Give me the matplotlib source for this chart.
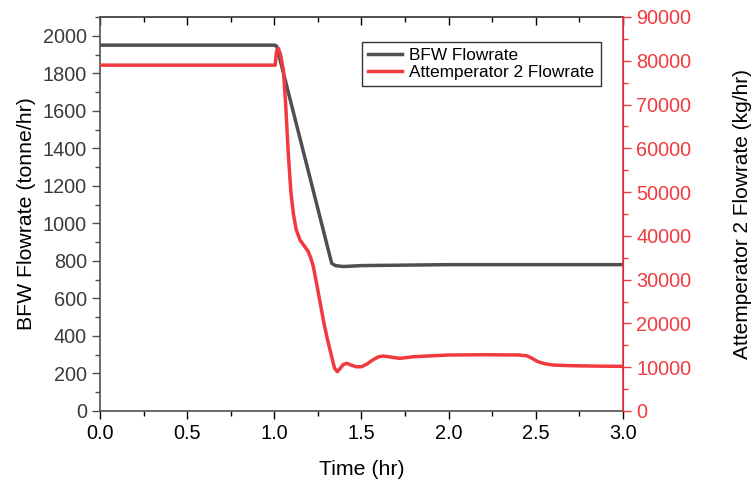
import matplotlib
matplotlib.use("Agg")
import matplotlib.pyplot as plt
from matplotlib.ticker import MultipleLocator

plt.rcParams['font.family'] = ['Liberation Sans', 'DejaVu Sans']

# BFW flowrate (tonne/hr)
bfw_t = [0.0, 1.0, 1.013, 1.329, 1.35, 1.396, 1.5, 2.0, 2.5, 3.0]
bfw_v = [1950, 1950, 1945, 787, 775, 770, 775, 780, 780, 780]

# Attemperator 2 flowrate (kg/hr)
att_t = [0.0, 1.005, 1.012, 1.023, 1.035, 1.052, 1.065, 1.08, 1.095, 1.109, 1.125,
         1.147, 1.17, 1.195, 1.21, 1.224, 1.25, 1.281, 1.305, 1.329, 1.345, 1.361,
         1.375, 1.395, 1.415, 1.44, 1.47, 1.501, 1.53, 1.57, 1.6, 1.625, 1.67,
         1.72, 1.8, 2.0, 2.2, 2.4, 2.45, 2.48, 2.51, 2.55, 2.6, 2.7, 2.85, 3.0]
att_v = [79000, 79000, 82000, 82850, 81500, 77900, 70000, 58860, 50000, 45160, 41500,
         39060, 37800, 36390, 34800, 32960, 27500, 20790, 16300, 12400, 9800, 8980,
         9600, 10600, 10900, 10500, 10100, 10120, 10700, 11800, 12400, 12560, 12300,
         12030, 12400, 12790, 12850, 12800, 12600, 12000, 11300, 10800, 10500, 10350, 10250, 10200]

BLACK = '#4f4f4f'
RED = '#f03a3f'

fig = plt.figure(figsize=(7.56, 4.83), dpi=100)
ax = fig.add_axes([100/756, 1-411/483, 523/756, 394/483])
ax2 = ax.twinx()

l1, = ax.plot(bfw_t, bfw_v, color=BLACK, lw=2.5, label='BFW Flowrate', solid_joinstyle='round')
l2, = ax2.plot(att_t, att_v, color=RED, lw=2.5, label='Attemperator 2 Flowrate', solid_joinstyle='round')

ax.set_xlim(0, 3.0)
ax.set_ylim(0, 2100)
ax2.set_ylim(0, 90000)

ax.xaxis.set_major_locator(MultipleLocator(0.5))
ax.xaxis.set_minor_locator(MultipleLocator(0.25))
ax.yaxis.set_major_locator(MultipleLocator(200))
ax.yaxis.set_minor_locator(MultipleLocator(100))
ax2.yaxis.set_major_locator(MultipleLocator(10000))
ax2.yaxis.set_minor_locator(MultipleLocator(5000))

FS = 14.3
ax.tick_params(axis='x', which='both', direction='out', labelsize=FS, colors='black')
ax.tick_params(axis='x', which='major', length=6, width=1)
ax.tick_params(axis='x', which='minor', length=3.5, width=1)
ax.tick_params(axis='y', which='major', direction='out', length=6, width=1, labelsize=FS,
               colors=BLACK, labelcolor='#3a3a3a')
ax.tick_params(axis='y', which='minor', direction='out', length=3.5, width=1, colors=BLACK)
ax2.tick_params(axis='y', which='major', direction='out', length=6, width=1, labelsize=FS,
                colors=RED, labelcolor=RED)
ax2.tick_params(axis='y', which='minor', direction='out', length=3.5, width=1, colors=RED)

# top axis: inward ticks, no labels
top = ax.secondary_xaxis('top')
top.set_xticks([0.0, 0.5, 1.0, 1.5, 2.0, 2.5, 3.0])
top.set_xticks([0.25, 0.75, 1.25, 1.75, 2.25, 2.75], minor=True)
top.tick_params(axis='x', which='both', direction='in', labeltop=False, colors='black', width=1)
top.tick_params(axis='x', which='major', length=6)
top.tick_params(axis='x', which='minor', length=3.5)
top.spines['top'].set_color(BLACK)
top.spines['top'].set_linewidth(1.2)

for s in ['left', 'bottom', 'top']:
    ax.spines[s].set_color(BLACK)
    ax.spines[s].set_linewidth(1.2)
ax2.spines['right'].set_color(RED)
ax2.spines['right'].set_linewidth(1.2)
ax2.spines['left'].set_visible(False)
ax2.spines['top'].set_visible(False)
ax2.spines['bottom'].set_visible(False)

ax.set_xlabel('Time (hr)', fontsize=15.3, labelpad=12)
ax.set_ylabel('BFW Flowrate (tonne/hr)', fontsize=15.3, labelpad=5)
ax2.set_ylabel('Attemperator 2 Flowrate (kg/hr)', fontsize=15, labelpad=30)

leg = ax.legend(handles=[l1, l2], loc='upper left', bbox_to_anchor=((362-100)/523, (411-42)/394),
                fontsize=12.4, frameon=True, fancybox=False, edgecolor='black',
                handlelength=2.0, borderpad=0.35, labelspacing=0.1, handletextpad=0.4,
                borderaxespad=0)
leg.get_frame().set_linewidth(1.0)

fig.savefig('out.png', dpi=100)
